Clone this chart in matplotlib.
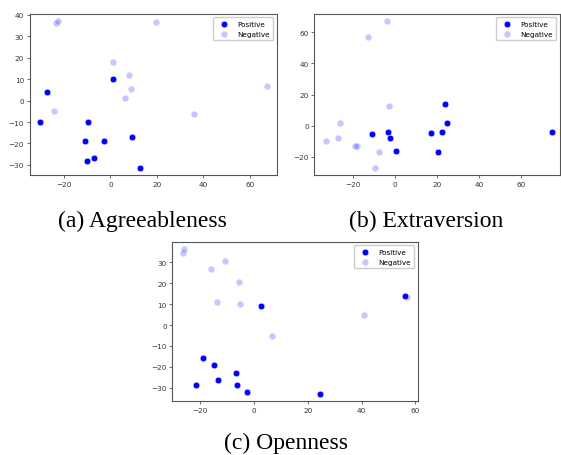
import numpy as np
import matplotlib.pyplot as plt

W, H = 561, 456

# (a) Agreeableness
agr_pos_x = [-30.4, -27.3, 1.0, -9.5, -10.8, -2.7, 9.1, -9.9, -7.2, 12.5]
agr_pos_y = [-9.9, 4.0, 9.9, -10.2, -18.9, -18.9, -16.8, -28.0, -26.6, -31.4]
agr_neg_x = [-23.6, -22.6, 19.4, 1.0, 7.8, 8.8, 6.2, -24.3, 36.1, 67.1]
agr_neg_y = [36.3, 37.3, 36.6, 18.2, 12.0, 5.4, 1.2, -5.0, -6.4, 6.8]

# (b) Extraversion
ext_pos_x = [-11.3, -3.5, -2.4, 0.2, 17.0, 22.4, 20.3, 23.7, 24.6, 74.8]
ext_pos_y = [-5.6, -3.9, -8.1, -16.3, -4.9, -3.9, -16.7, 13.7, 1.5, -3.9]
ext_neg_x = [-4.0, -13.0, -3.2, -26.3, -27.1, -33.0, -19.0, -18.3, -7.5, -9.8]
ext_neg_y = [67.1, 57.2, 12.4, 1.9, -8.1, -9.6, -12.9, -13.3, -17.1, -27.2]

# (c) Openness
opn_pos_x = [2.5, -19.1, -15.0, -21.7, -13.4, -6.6, -6.3, -2.7, 24.4, 56.3]
opn_pos_y = [9.3, -15.6, -19.1, -28.8, -26.5, -23.0, -28.5, -32.1, -33.0, 14.0]
opn_neg_x = [-26.6, -25.9, -16.1, -10.7, -5.5, -13.9, -5.2, 6.8, 40.8, 56.8]
opn_neg_y = [34.6, 36.4, 27.0, 30.5, 20.6, 10.8, 10.0, -5.1, 4.8, 13.6]

captions = ["(a) Agreeableness", "(b) Extraversion", "(c) Openness"]


def px_axes(fig, left, top, right, bottom):
    return fig.add_axes([left / W, 1 - bottom / H, (right - left) / W, (bottom - top) / H])


def draw(ax, px, py, nx, ny, xlim, ylim, xticks, yticks):
    ax.scatter(px, py, s=22, color="#0000ff", edgecolor="white", linewidth=0.3, label="Positive", zorder=3)
    ax.scatter(nx, ny, s=22, color="#0000ff", alpha=0.22, edgecolor="white", linewidth=0.3, label="Negative", zorder=2)
    ax.set_xlim(*xlim)
    ax.set_ylim(*ylim)
    ax.set_xticks(xticks)
    ax.set_yticks(yticks)
    ax.tick_params(labelsize=5.2, length=2, width=0.5, pad=2, colors="#333333")
    for sp in ax.spines.values():
        sp.set_color("#555555")
        sp.set_linewidth(0.8)
    ax.legend(loc="upper right", fontsize=5.2, markerscale=1.0, handletextpad=0.8,
              borderpad=0.5, framealpha=1, edgecolor="#cccccc", fancybox=True)


fig = plt.figure(figsize=(W / 100, H / 100), dpi=100)

ax1 = px_axes(fig, 29.5, 14.7, 277, 176)
draw(ax1, agr_pos_x, agr_pos_y, agr_neg_x, agr_neg_y, (-34.8, 71.6), (-34.7, 40.5),
     [-20, 0, 20, 40, 60], [-30, -20, -10, 0, 10, 20, 30, 40])

ax2 = px_axes(fig, 314.3, 14.7, 560, 176)
draw(ax2, ext_pos_x, ext_pos_y, ext_neg_x, ext_neg_y, (-38.6, 78.6), (-31.8, 72),
     [-20, 0, 20, 40, 60], [-20, 0, 20, 40, 60])

ax3 = px_axes(fig, 172.3, 242.7, 417.7, 402.3)
draw(ax3, opn_pos_x, opn_pos_y, opn_neg_x, opn_neg_y, (-30.4, 60.9), (-36.5, 39.9),
     [-20, 0, 20, 40, 60], [-30, -20, -10, 0, 10, 20, 30])

cap_font = dict(fontsize=17, family=["Liberation Serif", "DejaVu Serif"], ha="center", va="center")
fig.text(142 / W, 1 - 221 / H, captions[0], **cap_font)
fig.text(426 / W, 1 - 221 / H, captions[1], **cap_font)
fig.text(286 / W, 1 - 443 / H, captions[2], **cap_font)

fig.savefig("out.png", dpi=100)
